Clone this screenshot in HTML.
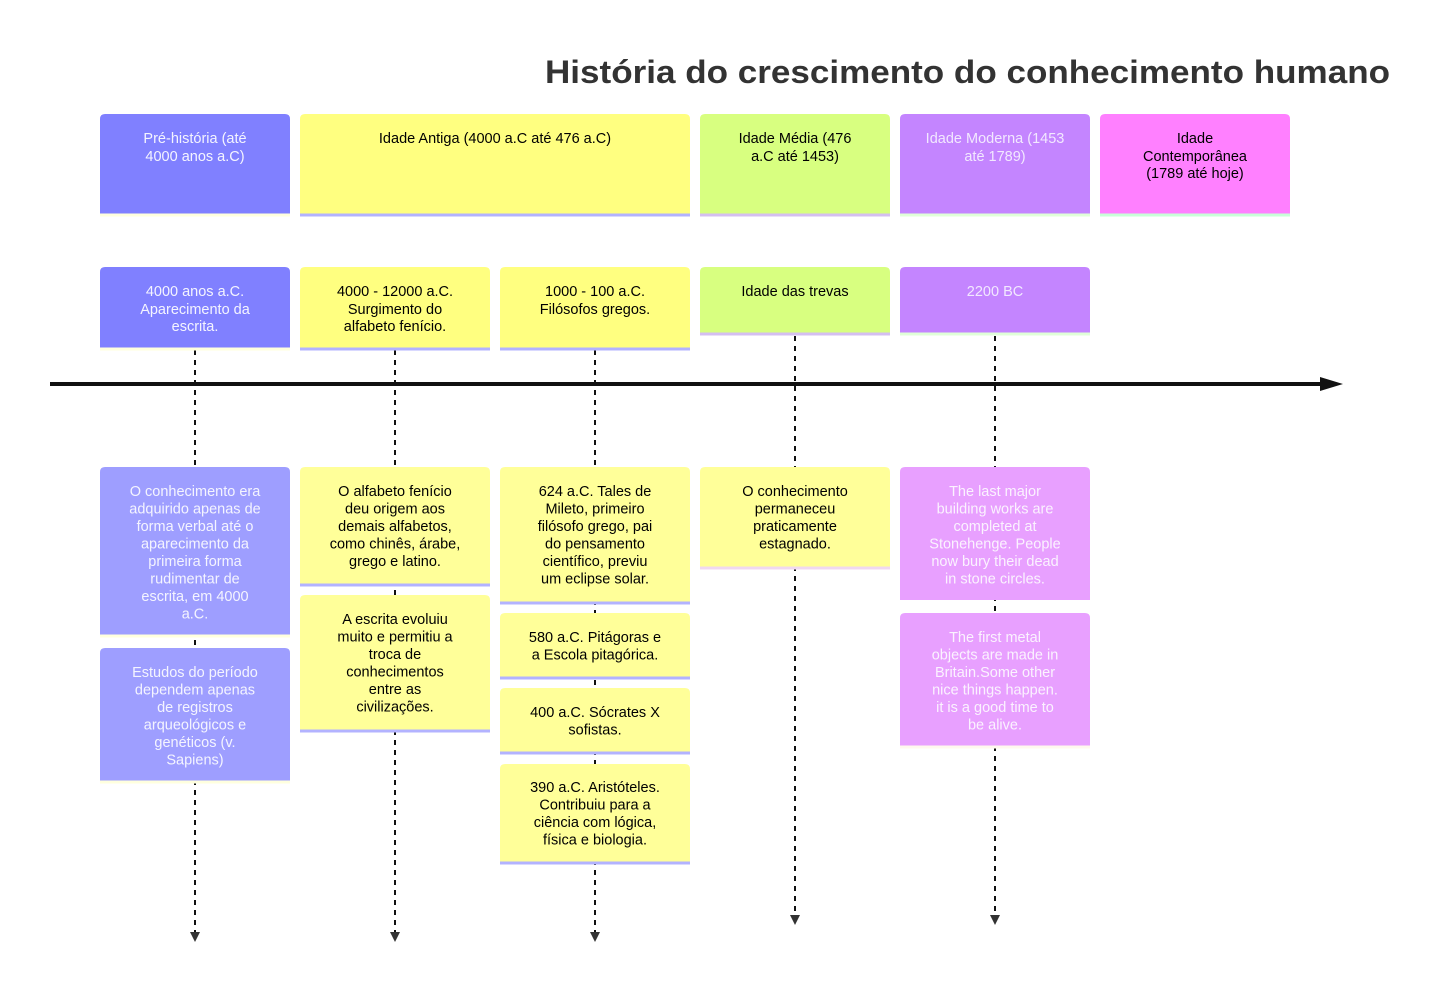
<!DOCTYPE html>
<html><head><meta charset="utf-8"><style>
html,body{margin:0;padding:0;background:#fff;width:1442px;height:990px;overflow:hidden}
svg text{font-family:"Liberation Sans","DejaVu Sans",sans-serif;font-size:14.5px;text-anchor:middle;dominant-baseline:central}
</style></head><body>
<svg width="1442" height="990" viewBox="0 0 1442 990" xmlns="http://www.w3.org/2000/svg">
<defs>
<marker id="ah" markerWidth="10" markerHeight="10" refX="5" refY="5" orient="auto"><path d="M0,0 L10,5 L0,10 z" fill="#333"/></marker>
</defs>
<text x="1390" y="72" style="font-size:32px;font-weight:bold;text-anchor:end;fill:#333" textLength="845" lengthAdjust="spacingAndGlyphs">História do crescimento do conhecimento humano</text>

<!-- dashed lines -->
<g stroke="#111" stroke-width="2" stroke-dasharray="5,5" fill="none">
<line x1="195" y1="350" x2="195" y2="935"/>
<line x1="395" y1="350" x2="395" y2="935"/>
<line x1="595" y1="350" x2="595" y2="935"/>
<line x1="795" y1="336" x2="795" y2="918"/>
<line x1="995" y1="336" x2="995" y2="918"/>
</g>
<g fill="#333">
<path d="M190,932 L200,932 L195,942 z"/><path d="M390,932 L400,932 L395,942 z"/><path d="M590,932 L600,932 L595,942 z"/>
<path d="M790,915 L800,915 L795,925 z"/><path d="M990,915 L1000,915 L995,925 z"/>
</g>
<line x1="50" y1="384" x2="1325" y2="384" stroke="#111" stroke-width="4"/>
<path d="M1320,377 L1343,384 L1320,391 z" fill="#111"/>

<!-- helper styles via groups -->
<!-- Sections -->
<g>
<path d="M100,214 V119 Q100,114 105,114 H285 Q290,114 290,119 V214 Z" fill="#8080ff"/><line x1="100" x2="290" y1="215" y2="215" stroke="#ffffde" stroke-width="3"/>
<text x="195" y="139" fill="#f4f4ff">Pré-história (até</text><text x="195" y="157" fill="#f4f4ff">4000 anos a.C)</text>

<path d="M300,214 V119 Q300,114 305,114 H685 Q690,114 690,119 V214 Z" fill="#ffff80"/><line x1="300" x2="690" y1="215" y2="215" stroke="#b3b3ff" stroke-width="3"/>
<text x="495" y="139" fill="#000">Idade Antiga (4000 a.C até 476 a.C)</text>

<path d="M700,214 V119 Q700,114 705,114 H885 Q890,114 890,119 V214 Z" fill="#d8ff80"/><line x1="700" x2="890" y1="215" y2="215" stroke="#d4bff0" stroke-width="3"/>
<text x="795" y="139" fill="#000">Idade Média (476</text><text x="795" y="157" fill="#000">a.C até 1453)</text>

<path d="M900,214 V119 Q900,114 905,114 H1085 Q1090,114 1090,119 V214 Z" fill="#c485ff"/><line x1="900" x2="1090" y1="215" y2="215" stroke="#e0ffd8" stroke-width="3"/>
<text x="995" y="139" fill="#f2e8ff">Idade Moderna (1453</text><text x="995" y="157" fill="#f2e8ff">até 1789)</text>

<path d="M1100,214 V119 Q1100,114 1105,114 H1285 Q1290,114 1290,119 V214 Z" fill="#ff80ff"/><line x1="1100" x2="1290" y1="215" y2="215" stroke="#c8ffd8" stroke-width="3"/>
<text x="1195" y="139" fill="#000">Idade</text><text x="1195" y="157" fill="#000">Contemporânea</text><text x="1195" y="174" fill="#000">(1789 até hoje)</text>
</g>

<!-- Tasks -->
<g>
<path d="M100,348 V272 Q100,267 105,267 H285 Q290,267 290,272 V348 Z" fill="#8080ff"/><line x1="100" x2="290" y1="349" y2="349" stroke="#ffffde" stroke-width="3"/>
<text x="195" y="292" fill="#f4f4ff">4000 anos a.C.</text><text x="195" y="310" fill="#f4f4ff">Aparecimento da</text><text x="195" y="327" fill="#f4f4ff">escrita.</text>

<path d="M300,348 V272 Q300,267 305,267 H485 Q490,267 490,272 V348 Z" fill="#ffff80"/><line x1="300" x2="490" y1="349" y2="349" stroke="#b3b3ff" stroke-width="3"/>
<text x="395" y="292">4000 - 12000 a.C.</text><text x="395" y="310">Surgimento do</text><text x="395" y="327">alfabeto fenício.</text>

<path d="M500,348 V272 Q500,267 505,267 H685 Q690,267 690,272 V348 Z" fill="#ffff80"/><line x1="500" x2="690" y1="349" y2="349" stroke="#b3b3ff" stroke-width="3"/>
<text x="595" y="292">1000 - 100 a.C.</text><text x="595" y="310">Filósofos gregos.</text>

<path d="M700,333 V272 Q700,267 705,267 H885 Q890,267 890,272 V333 Z" fill="#d8ff80"/><line x1="700" x2="890" y1="334" y2="334" stroke="#d4bff0" stroke-width="3"/>
<text x="795" y="292">Idade das trevas</text>

<path d="M900,333 V272 Q900,267 905,267 H1085 Q1090,267 1090,272 V333 Z" fill="#c485ff"/><line x1="900" x2="1090" y1="334" y2="334" stroke="#e0ffd8" stroke-width="3"/>
<text x="995" y="292" fill="#f2e8ff">2200 BC</text>
</g>

<!-- Events col1 -->
<g fill="#f4f4ff">
<path d="M100,635 V472 Q100,467 105,467 H285 Q290,467 290,472 V635 Z" fill="#9e9eff"/><line x1="100" x2="290" y1="636" y2="636" stroke="#ffffde" stroke-width="3"/>
<text x="195" y="492">O conhecimento era</text><text x="195" y="509.5">adquirido apenas de</text><text x="195" y="527">forma verbal até o</text><text x="195" y="544.5">aparecimento da</text><text x="195" y="562">primeira forma</text><text x="195" y="579.5">rudimentar de</text><text x="195" y="597">escrita, em 4000</text><text x="195" y="614.5">a.C.</text>
<path d="M100,781 V653 Q100,648 105,648 H285 Q290,648 290,653 V781 Z" fill="#9e9eff"/><line x1="100" x2="290" y1="782" y2="782" stroke="#ffffde" stroke-width="3"/>
<text x="195" y="673">Estudos do período</text><text x="195" y="690.5">dependem apenas</text><text x="195" y="708">de registros</text><text x="195" y="725.5">arqueológicos e</text><text x="195" y="743">genéticos (v.</text><text x="195" y="760.5">Sapiens)</text>
</g>

<!-- col2 -->
<g fill="#000">
<path d="M300,584 V472 Q300,467 305,467 H485 Q490,467 490,472 V584 Z" fill="#ffff99"/><line x1="300" x2="490" y1="585" y2="585" stroke="#b3b3ff" stroke-width="3"/>
<text x="395" y="492">O alfabeto fenício</text><text x="395" y="509.5">deu origem aos</text><text x="395" y="527">demais alfabetos,</text><text x="395" y="544.5">como chinês, árabe,</text><text x="395" y="562">grego e latino.</text>
<path d="M300,730 V600 Q300,595 305,595 H485 Q490,595 490,600 V730 Z" fill="#ffff99"/><line x1="300" x2="490" y1="731" y2="731" stroke="#b3b3ff" stroke-width="3"/>
<text x="395" y="620">A escrita evoluiu</text><text x="395" y="637.5">muito e permitiu a</text><text x="395" y="655">troca de</text><text x="395" y="672.5">conhecimentos</text><text x="395" y="690">entre as</text><text x="395" y="707.5">civilizações.</text>
</g>

<!-- col3 -->
<g fill="#000">
<path d="M500,602 V472 Q500,467 505,467 H685 Q690,467 690,472 V602 Z" fill="#ffff99"/><line x1="500" x2="690" y1="603" y2="603" stroke="#b3b3ff" stroke-width="3"/>
<text x="595" y="492">624 a.C. Tales de</text><text x="595" y="509.5">Mileto, primeiro</text><text x="595" y="527">filósofo grego, pai</text><text x="595" y="544.5">do pensamento</text><text x="595" y="562">científico, previu</text><text x="595" y="579.5">um eclipse solar.</text>
<path d="M500,677 V618 Q500,613 505,613 H685 Q690,613 690,618 V677 Z" fill="#ffff99"/><line x1="500" x2="690" y1="678" y2="678" stroke="#b3b3ff" stroke-width="3"/>
<text x="595" y="638">580 a.C. Pitágoras e</text><text x="595" y="655.5">a Escola pitagórica.</text>
<path d="M500,752 V693 Q500,688 505,688 H685 Q690,688 690,693 V752 Z" fill="#ffff99"/><line x1="500" x2="690" y1="753" y2="753" stroke="#b3b3ff" stroke-width="3"/>
<text x="595" y="713">400 a.C. Sócrates X</text><text x="595" y="730.5">sofistas.</text>
<path d="M500,862 V769 Q500,764 505,764 H685 Q690,764 690,769 V862 Z" fill="#ffff99"/><line x1="500" x2="690" y1="863" y2="863" stroke="#b3b3ff" stroke-width="3"/>
<text x="595" y="788">390 a.C. Aristóteles.</text><text x="595" y="805.5">Contribuiu para a</text><text x="595" y="823">ciência com lógica,</text><text x="595" y="840.5">física e biologia.</text>
</g>

<!-- col4 -->
<g fill="#000">
<path d="M700,567 V472 Q700,467 705,467 H885 Q890,467 890,472 V567 Z" fill="#ffff99"/><line x1="700" x2="890" y1="568" y2="568" stroke="#f0d8f0" stroke-width="3"/>
<text x="795" y="492">O conhecimento</text><text x="795" y="509.5">permaneceu</text><text x="795" y="527">praticamente</text><text x="795" y="544.5">estagnado.</text>
</g>

<!-- col5 -->
<g fill="#fbf2ff">
<path d="M900,600 V472 Q900,467 905,467 H1085 Q1090,467 1090,472 V600 Z" fill="#e8a0ff"/>
<text x="995" y="492">The last major</text><text x="995" y="509.5">building works are</text><text x="995" y="527">completed at</text><text x="995" y="544.5">Stonehenge. People</text><text x="995" y="562">now bury their dead</text><text x="995" y="579.5">in stone circles.</text>
<path d="M900,746 V618 Q900,613 905,613 H1085 Q1090,613 1090,618 V746 Z" fill="#e8a0ff"/><line x1="900" x2="1090" y1="747" y2="747" stroke="#fff8ee" stroke-width="3"/>
<text x="995" y="638">The first metal</text><text x="995" y="655.5">objects are made in</text><text x="995" y="673">Britain.Some other</text><text x="995" y="690.5">nice things happen.</text><text x="995" y="708">it is a good time to</text><text x="995" y="725.5">be alive.</text>
</g>
</svg>
</body></html>
